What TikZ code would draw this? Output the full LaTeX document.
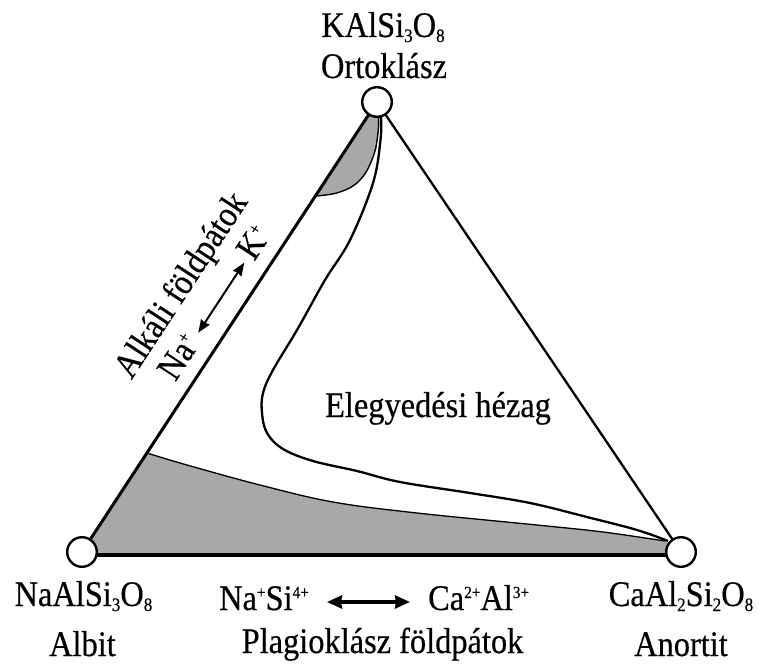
\documentclass[tikz,border=0pt]{standalone}
\usepackage{fontspec}
\setmainfont{Liberation Serif}[FakeStretch=0.9,FakeBold=0.4]
\usetikzlibrary{arrows.meta}
\definecolor{greyfill}{RGB}{168,168,168}
\newcommand{\mysub}[1]{\raisebox{-5pt}{\fontsize{19}{19}\selectfont #1}}
\newcommand{\mysup}[1]{\raisebox{12pt}{\fontsize{17}{17}\selectfont #1}}
\begin{document}
\begin{tikzpicture}[x=1pt,y=-1pt,
  lbl/.style={font=\fontsize{36}{40}\selectfont, inner sep=0pt, anchor=base},
  vertex/.style={circle, draw=black, line width=2.4pt, fill=white, minimum size=29.6pt, inner sep=0pt},
  gapline/.style={draw=black, line width=2.3pt, line join=round},
  bigarrow/.style={line width=3.4pt, {Stealth[length=15pt,width=13pt,inset=1pt]}-{Stealth[length=15pt,width=13pt,inset=1pt]}},
  smallarrow/.style={line width=2pt, {Stealth[length=13pt,width=10pt,inset=1pt]}-{Stealth[length=13pt,width=10pt,inset=1pt]}}]
\useasboundingbox (0,0) rectangle (759,666);
\coordinate (T) at (377,102);
\coordinate (L) at (82,552);
\coordinate (R) at (681,552);
% grey regions
\fill[greyfill] (T) -- (316,196) -- plot[smooth, tension=0.7] coordinates {(316,196) (340,192) (360,180) (373,157) (378,133) (378.5,116)} -- cycle;
\draw[line width=1.4pt] plot[smooth, tension=0.7] coordinates {(316,196) (340,192) (360,180) (373,157) (378,133) (378.5,116)};
\fill[greyfill] (L) -- (147,453) -- plot[smooth, tension=0.6] coordinates {(147,453) (187,465) (260,485) (333,502) (417,513) (537,525) (603,532) (665,541)} -- (R) -- (681,555) -- (82,555) -- cycle;
\draw[line width=1.3pt] plot[smooth, tension=0.6] coordinates {(147,453) (187,465) (260,485) (333,502) (417,513) (537,525) (603,532) (665,541)};
% miscibility gap
\draw[gapline] plot[smooth, tension=0.6] coordinates {(381,117) (380.5,140) (373,183) (350,240) (325,280) (297,330) (273,370) (263,393) (262,413) (267,433) (283,449) (313,461) (357,471) (400,482) (470,493) (530,503) (587,517) (637,530) (668,541)};
% triangle edges
\draw[line width=3pt] (L) -- (T);
\draw[line width=2.3pt] (T) -- (R);
\draw[line width=4pt] ([yshift=-3pt]L) -- ([yshift=-3pt]R);
% vertex circles
\node[vertex] (vt) at (T) {};
\node[vertex] (vl) at (L) {};
\node[vertex] (vr) at (R) {};
% labels
\node[lbl] (kal) at (383,37) {KAlSi\mysub{3}O\mysub{8}};
\node[lbl] (ort) at (384,78) {Ortoklász};
\node[lbl] (naal) at (83.5,606) {NaAlSi\mysub{3}O\mysub{8}};
\node[lbl] (alb) at (82.5,656) {Albit};
\node[lbl] (caal2) at (681,606) {CaAl\mysub{2}Si\mysub{2}O\mysub{8}};
\node[lbl] (ano) at (681,656) {Anortit};
\node[lbl] (eleg) at (438,417) {Elegyedési hézag};
% plagioclase row
\node[lbl, anchor=base west] (nasi) at (219,610) {Na\mysup{+}Si\mysup{4+}};
\coordinate (pa1) at (327,602);
\coordinate (pa2) at (410,602);
\draw[bigarrow] (pa1) -- (pa2);
\node[lbl, anchor=base west] (caal) at (428,610) {Ca\mysup{2+}Al\mysup{3+}};
\node[lbl] (plag) at (382.5,653) {Plagioklász földpátok};
% alkali feldspar labels
\node[lbl, rotate=56.76] (alk) at (190,291) {Alkáli földpátok};
\node[lbl, rotate=56.76, anchor=base west] (na) at (175.3,382.4) {Na\mysup{+}};
\coordinate (ra1) at (198.2,332.8);
\coordinate (ra2) at (244.3,262.6);
\draw[smallarrow] (ra1) -- (ra2);
\node[lbl, rotate=56.76, anchor=base west] (kp) at (254.2,262) {K\mysup{+}};
\end{tikzpicture}
\end{document}
